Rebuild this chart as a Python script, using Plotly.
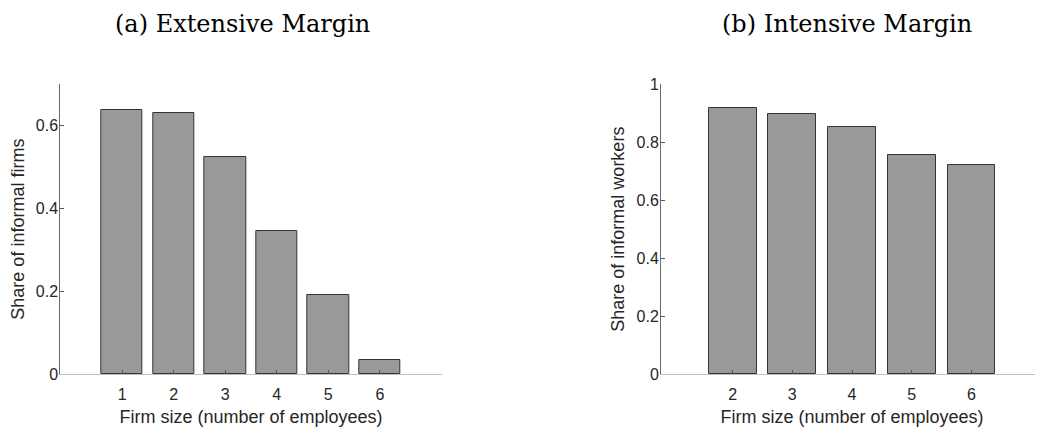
import plotly.graph_objects as go

# Data
ext_sizes = [1, 2, 3, 4, 5, 6]
ext_share = [0.638, 0.629, 0.524, 0.346, 0.192, 0.034]
int_sizes = [2, 3, 4, 5, 6]
int_share = [0.916, 0.897, 0.853, 0.755, 0.720]
ext_yticks = [0, 0.2, 0.4, 0.6]
ext_yticklabels = ["0", "0.2", "0.4", "0.6"]
int_yticks = [0, 0.2, 0.4, 0.6, 0.8, 1]
int_yticklabels = ["0", "0.2", "0.4", "0.6", "0.8", "1"]
titles = ["(a) Extensive Margin", "(b) Intensive Margin"]
xlabel = "Firm size (number of employees)"
ylabels = ["Share of informal firms", "Share of informal workers"]

# page is offset by the 8px body margin; figure fills the rest of the window
OFF = 8
W, H = 1043 - OFF, 429 - OFF
BAR_FILL = "#999999"
BAR_EDGE = "#333333"
TXT = "#262626"
SANS = "Liberation Sans, Arial, Helvetica, sans-serif"
SERIF = "DejaVu Serif, Liberation Serif, serif"


def px_x(p):
    return (p - OFF) / W


def px_y(p):
    return 1 - (p - OFF) / H


fig = go.Figure()
fig.add_trace(go.Bar(x=ext_sizes, y=ext_share, width=0.8, marker=dict(color=BAR_FILL, line=dict(color=BAR_EDGE, width=1)),
                     xaxis="x", yaxis="y", showlegend=False))
fig.add_trace(go.Bar(x=int_sizes, y=int_share, width=0.8, marker=dict(color=BAR_FILL, line=dict(color=BAR_EDGE, width=1)),
                     xaxis="x2", yaxis="y2", showlegend=False))

ydom = [px_y(374.3), px_y(84)]
common_x = dict(ticks="inside", ticklen=4, tickcolor="#555555", showline=True, linecolor="#c0c0c0", linewidth=1,
                showgrid=False, zeroline=False, automargin=False, tickfont=dict(family=SANS, size=16, color=TXT),
                title=dict(text=xlabel, font=dict(family=SANS, size=18, color=TXT), standoff=8), ticklabelstandoff=5)
common_y = dict(ticks="inside", ticklen=4, tickcolor="#555555", showline=True, linecolor="#6a6a6a", linewidth=1,
                showgrid=False, zeroline=False, automargin=False, tickfont=dict(family=SANS, size=16, color=TXT),
                ticklabelstandoff=-2)

fig.update_layout(
    width=W, height=H, margin=dict(l=0, r=0, t=0, b=0),
    paper_bgcolor="white", plot_bgcolor="white", bargap=0,
    xaxis=dict(domain=[px_x(60.3), px_x(441.7)], range=[-0.2, 7.2], tickvals=ext_sizes, anchor="y", **common_x),
    yaxis=dict(domain=ydom, range=[0, 0.7], tickvals=ext_yticks, ticktext=ext_yticklabels, anchor="x",
               title=dict(text=ylabels[0], font=dict(family=SANS, size=18, color=TXT), standoff=7), **common_y),
    xaxis2=dict(domain=[px_x(661), 1.0], range=[0.8, 7.2], tickvals=int_sizes, anchor="y2", **common_x),
    yaxis2=dict(domain=ydom, range=[0, 1], tickvals=int_yticks, ticktext=int_yticklabels, anchor="x2",
                title=dict(text=ylabels[1], font=dict(family=SANS, size=18, color=TXT), standoff=7), **common_y),
)

fig.add_annotation(text=titles[0], x=px_x(242), y=px_y(8), xref="paper", yref="paper", showarrow=False,
                   xanchor="center", yanchor="top", font=dict(family=SERIF, size=24, color="black"))
fig.add_annotation(text=titles[1], x=px_x(847), y=px_y(8), xref="paper", yref="paper", showarrow=False,
                   xanchor="center", yanchor="top", font=dict(family=SERIF, size=24, color="black"))

fig.write_html("out.html")
